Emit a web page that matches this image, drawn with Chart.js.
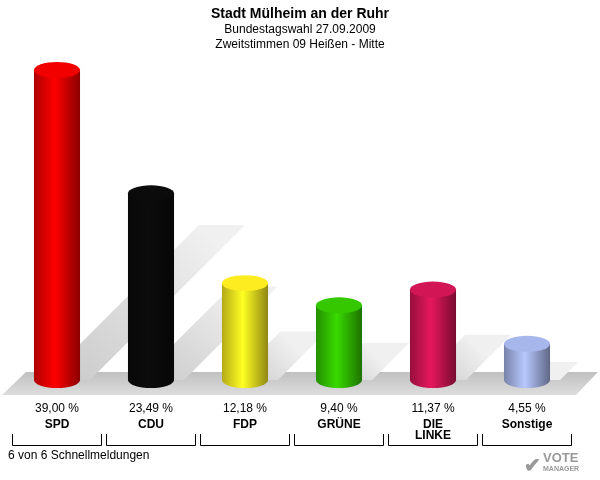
<!DOCTYPE html>
<html>
<head>
<meta charset="utf-8">
<script src="https://cdn.jsdelivr.net/npm/chart.js@4/dist/chart.umd.min.js"></script>
<style>body{margin:0;background:#fff}</style>
</head>
<body>
<canvas id="c" width="600" height="480"></canvas>
<script>
var parties = ['SPD', 'CDU', 'FDP', 'GRÜNE', 'DIE|LINKE', 'Sonstige'];
var shares = [39.00, 23.49, 12.18, 9.40, 11.37, 4.55];
var shareLabels = ['39,00 %', '23,49 %', '12,18 %', '9,40 %', '11,37 %', '4,55 %'];
var colors = [[230, 0, 0], [10, 10, 10], [240, 225, 30], [50, 190, 0], [200, 20, 80], [160, 174, 224]];

function rgb(c, f) {
    return 'rgb(' + c.map(function (v) { return Math.max(0, Math.min(255, Math.round(v * f))); }).join(',') + ')';
}

var cylinders = {
    id: 'cylinders',
    beforeDatasetsDraw: function (chart) {
        var ctx = chart.ctx;
        var meta = chart.getDatasetMeta(0);
        var base = meta.data[0].base;
        ctx.save();
        // floor
        var g = ctx.createLinearGradient(0, base - 12, 0, base + 15);
        g.addColorStop(0, '#bbb'); g.addColorStop(1, '#ddd');
        ctx.fillStyle = g;
        ctx.beginPath();
        ctx.moveTo(2, base + 15); ctx.lineTo(26, base - 8);
        ctx.lineTo(598, base - 8); ctx.lineTo(576, base + 15);
        ctx.closePath(); ctx.fill();
        // shadows
        meta.data.forEach(function (bar) {
            var w = bar.width, h = (bar.base - bar.y) * 0.5;
            var x0 = bar.x - w / 2 + 10;
            var sg = ctx.createLinearGradient(x0, bar.base, x0 + h, bar.base - h);
            sg.addColorStop(0, '#c8c8c8'); sg.addColorStop(1, '#f0f0f0');
            ctx.fillStyle = sg;
            ctx.beginPath();
            ctx.moveTo(x0, bar.base);
            ctx.lineTo(x0 + w, bar.base);
            ctx.lineTo(x0 + w + h, bar.base - h);
            ctx.lineTo(x0 + h, bar.base - h);
            ctx.closePath(); ctx.fill();
        });
        // cylinders
        meta.data.forEach(function (bar, i) {
            var c = colors[i], w = bar.width, l = bar.x - w / 2, ry = 8;
            var cg = ctx.createLinearGradient(l, 0, l + w, 0);
            cg.addColorStop(0, rgb(c, 0.75)); cg.addColorStop(0.45, rgb(c, 1.15));
            cg.addColorStop(1, rgb(c, 0.6));
            ctx.fillStyle = cg;
            ctx.beginPath();
            ctx.moveTo(l, bar.y);
            ctx.lineTo(l, bar.base);
            ctx.ellipse(bar.x, bar.base, w / 2, ry, 0, Math.PI, 0, true);
            ctx.lineTo(l + w, bar.y);
            ctx.closePath(); ctx.fill();
            ctx.fillStyle = rgb(c, 1.05);
            ctx.beginPath();
            ctx.ellipse(bar.x, bar.y, w / 2, ry, 0, 0, Math.PI * 2);
            ctx.fill();
        });
        // labels
        ctx.fillStyle = '#000';
        ctx.textAlign = 'center';
        meta.data.forEach(function (bar, i) {
            ctx.font = '12px Arial, "Liberation Sans"';
            ctx.fillText(shareLabels[i], bar.x, 412);
            ctx.font = 'bold 12px Arial, "Liberation Sans"';
            var parts = parties[i].split('|');
            parts.forEach(function (p, k) { ctx.fillText(p, bar.x, 428 + k * 11); });
            ctx.strokeStyle = '#000'; ctx.lineWidth = 1;
            ctx.beginPath();
            ctx.moveTo(bar.x - 44.5, 434); ctx.lineTo(bar.x - 44.5, 445.5);
            ctx.lineTo(bar.x + 44.5, 445.5); ctx.lineTo(bar.x + 44.5, 434);
            ctx.stroke();
        });
        ctx.font = 'bold 14px Arial, "Liberation Sans"';
        ctx.fillText('Stadt Mülheim an der Ruhr', 300, 18);
        ctx.font = '12px Arial, "Liberation Sans"';
        ctx.fillText('Bundestagswahl 27.09.2009', 300, 33);
        ctx.fillText('Zweitstimmen 09 Heißen - Mitte', 300, 48);
        ctx.textAlign = 'left';
        ctx.fillText('6 von 6 Schnellmeldungen', 8, 459);
        ctx.fillStyle = '#999';
        ctx.font = 'bold 13px Arial, "Liberation Sans"';
        ctx.fillText('VOTE', 543, 462);
        ctx.font = 'bold 7px Arial, "Liberation Sans"';
        ctx.fillText('MANAGER', 543, 471);
        ctx.font = 'bold 20px Arial, "Liberation Sans"';
        ctx.fillText('✔', 524, 472);
        ctx.restore();
    }
};

new Chart(document.getElementById('c'), {
    type: 'bar',
    data: {
        labels: parties,
        datasets: [{
            data: shares,
            backgroundColor: 'rgba(0,0,0,0)',
            categoryPercentage: 1,
            barPercentage: 0.49
        }]
    },
    options: {
        responsive: false,
        animation: false,
        layout: { padding: { left: 10, right: 26, top: 70, bottom: 100 } },
        plugins: { legend: { display: false }, tooltip: { enabled: false } },
        scales: {
            x: { display: false },
            y: { display: false, min: 0, max: 39 }
        }
    },
    plugins: [cylinders]
});
</script>
</body>
</html>
